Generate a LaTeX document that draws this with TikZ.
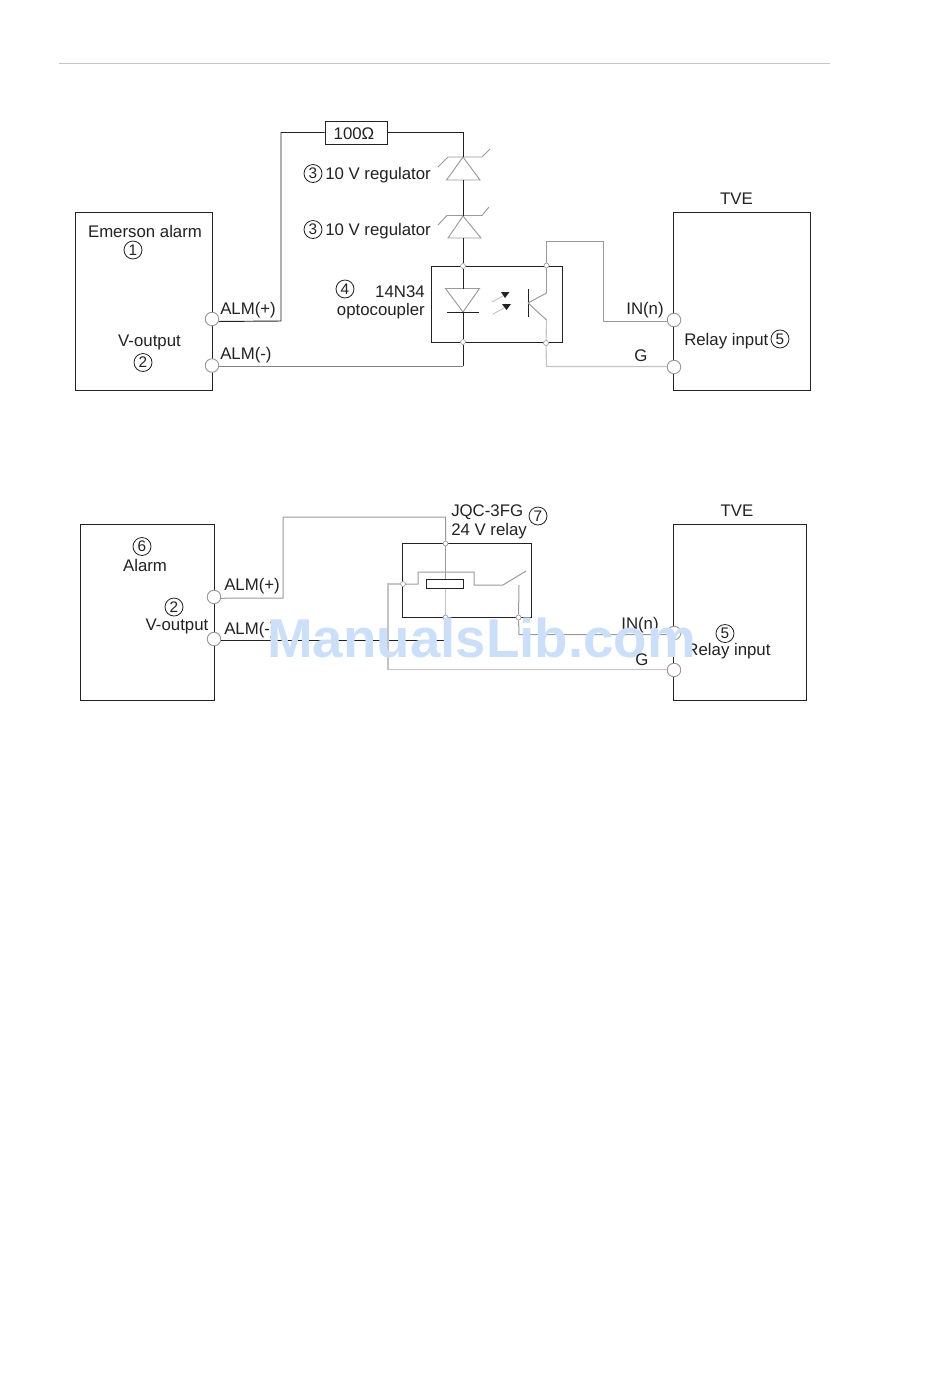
\documentclass[tikz,border=0pt]{standalone}
\usepackage{fontspec}
\setmainfont{Liberation Sans}
\definecolor{ink}{HTML}{222222}
\definecolor{gr}{HTML}{9A9A9A}
\definecolor{lgr}{HTML}{C4C4C4}
\definecolor{wmcol}{HTML}{CCDFF8}
\tikzset{
  x=0.75pt,y=-0.75pt,
  boxwh/.style 2 args={draw=ink,line width=0.7pt,fill=none,minimum width=#1*0.75pt,minimum height=#2*0.75pt,inner sep=0pt},
  port/.style={circle,draw=gr,fill=white,line width=0.7pt,minimum size=13.5*0.75pt,inner sep=0pt},
  dot/.style={circle,draw=gr,fill=white,line width=0.5pt,minimum size=5*0.75pt,inner sep=0pt},
  lbl/.style={text=ink,font=\fontsize{12.6}{15}\selectfont,inner sep=0pt},
  num/.style={circle,draw=ink,line width=0.6pt,text=ink,font=\fontsize{11.5}{12}\selectfont,minimum size=18*0.75pt,inner sep=0pt},
  wb/.style={draw=ink,line width=0.7pt},
  wg/.style={draw=gr,line width=0.75pt},
  wl/.style={draw=lgr,line width=0.85pt},
  sym/.style={draw=gr,line width=0.7pt},
  wm/.style={text=wmcol,font=\fontsize{41}{45}\selectfont\bfseries,inner sep=0pt}
}
\begin{document}
\begin{tikzpicture}
\useasboundingbox (0,0) rectangle (950,1386);
\fill[white] (0,0) rectangle (950,1386);
\coordinate (hl) at (59,63.5); \coordinate (hr) at (830,63.5);
\draw[draw=lgr,line width=0.7pt] (hl) -- (hr);

% ---------- top diagram ----------
\node[boxwh={137}{177.5}] (alarmA) at (144,301.25) {};
\node[boxwh={137}{177.5}] (tveA) at (742,301.25) {};
\node[boxwh={62}{23}] (res) at (356,132.5) {};
\node[lbl] (resT) at (354,133.5) {100Ω};
\node[boxwh={131}{76}] (opto) at (497,304) {};

\coordinate (c1) at (281,321); \coordinate (c2) at (281,132.5);
\coordinate (c3) at (463,132.5);
\coordinate (z1a) at (463,157); \coordinate (z1b) at (463,180);
\coordinate (z2a) at (463,216); \coordinate (z2b) at (463,238);
\coordinate (d1a) at (463,288.5); \coordinate (d1b) at (463,312);
\coordinate (c4) at (463,366);
\coordinate (q1) at (546.5,293); \coordinate (q2) at (546.5,320);
\coordinate (qb) at (528,303);
\coordinate (c5) at (546.5,241.5); \coordinate (c6) at (603.5,241.5);
\coordinate (c7) at (603.5,321); \coordinate (c8) at (546.5,366.5);

% zeners
\draw[sym] (438,167) -- (448,157) -- (482,157) -- (490,149);
\draw[sym] (z1a) -- (446.5,180) -- (480,180) -- cycle;
\draw[sym] (438,225) -- (447,215.5) -- (482,215.5) -- (489,207);
\draw[sym] (z2a) -- (448,238) -- (481,238) -- cycle;
% led + bar
\draw[sym] (445.5,288.5) -- (479.5,288.5) -- (d1b) -- cycle;
\draw[wb] (447,312) -- (479,312);
% light arrows
\draw[draw=lgr,line width=0.7pt] (492,302) -- (503,296);
\draw[draw=lgr,line width=0.7pt] (493,314) -- (504,308);
\fill[ink] (501,292) -- (509.5,292) -- (505,298) -- cycle;
\fill[ink] (502,304) -- (511,304) -- (506.5,310) -- cycle;
% transistor
\draw[wb] (528.3,289) -- (528.3,317);
\draw[wg] (qb) -- (q1); \draw[wg] (qb) -- (q2);

\node[dot] (dA1) at (463,266) {};
\node[dot] (dA2) at (546.5,265.5) {};
\node[dot] (dA3) at (463,342) {};
\node[dot] (dA4) at (546,343) {};
\node[port] (pA1) at (212,319) {};
\node[port] (pA2) at (212,365.5) {};
\node[port] (pA3) at (674,320) {};
\node[port] (pA4) at (674,367) {};

\draw[wb] (pA1.-20) -- (c1) -- (c2) -- (res.west);
\draw[wb] (res.east) -- (c3) -- (z1a);
\draw[wb] (z1b) -- (z2a);
\draw[wb] (z2b) -- (dA1);
\draw[wb] (dA1) -- (d1a);
\draw[wb] (d1b) -- (dA3);
\draw[wb] (dA3) -- (c4);
\draw[draw=gr!85!black,line width=0.75pt] (c4) -- (pA2.east |- c4);
\draw[wg] (dA2) -- (q1);
\draw[wg] (dA2) -- (c5) -- (c6) -- (c7) -- (pA3.west |- c7);
\draw[wl] (q2) -- (dA4);
\draw[wl] (dA4) -- (c8) -- (pA4.west |- c8);

\node[lbl] (tA1) at (145,231.5) {Emerson alarm};
\node[num] (nA1) at (133,250) {1};
\node[lbl] (tA2) at (149.5,342.5) {V-output};
\node[num] (nA2) at (143,362.5) {2};
\node[lbl,anchor=west] (tA3) at (220,310.5) {ALM(+)};
\node[lbl,anchor=west] (tA4) at (220,355.5) {ALM(-)};
\node[num] (nA3) at (313,173.5) {3};
\node[lbl,anchor=west] (tA5) at (325,175.5) {10 V regulator};
\node[num] (nA4) at (313,229.5) {3};
\node[lbl,anchor=west] (tA6) at (325,231.5) {10 V regulator};
\node[num] (nA5) at (345,289) {4};
\node[lbl,anchor=east] (tA7) at (425,292) {14N34};
\node[lbl,anchor=east] (tA8) at (425,311.5) {optocoupler};
\node[lbl] (tA9) at (736.5,199) {TVE};
\node[lbl,anchor=west] (tA10) at (684,341.5) {Relay input};
\node[num] (nA6) at (780,339) {5};
\node[lbl] (tA11) at (645,310.5) {IN(n)};
\node[lbl] (tA12) at (641,356) {G};

% ---------- bottom diagram ----------
\node[boxwh={134}{175.5}] (alarmB) at (147.5,612.25) {};
\node[boxwh={133}{175.5}] (tveB) at (740,612.25) {};
\node[boxwh={129}{74}] (relay) at (467,580.5) {};
\node[boxwh={37.5}{9.5}] (coil) at (445,583.75) {};

\coordinate (e1) at (283,598); \coordinate (e2) at (283,517);
\coordinate (e3) at (445.5,517);
\coordinate (e4) at (445.5,640);
\coordinate (f1) at (418,584); \coordinate (f2) at (418,572);
\coordinate (f3) at (474,572); \coordinate (f4) at (474,585);
\coordinate (f5) at (503,585); \coordinate (f6) at (526,571);
\coordinate (g1) at (519,585); \coordinate (g2) at (519,634.5);
\coordinate (h1) at (388,584); \coordinate (h2) at (388,669.5);

\node[dot] (dB1) at (445.5,543.5) {};
\node[dot] (dB2) at (445.5,617.5) {};
\node[dot] (dB3) at (518.5,617.5) {};
\node[dot] (dB4) at (403,584) {};
\node[port] (pB1) at (214,597) {};
\node[port] (pB2) at (214,639) {};
\node[port] (pB3) at (674,633) {};
\node[port] (pB4) at (674,670) {};

\draw[wg] (pB1.-10) -- (e1) -- (e2) -- (e3) -- (dB1);
\draw[wg] (dB1) -- (coil.north -| dB1);
\draw[wl] (coil.south -| dB2) -- (dB2);
\draw[wb] (dB2) -- (e4) -- (pB2.east |- e4);
\draw[wg] (dB4) -- (f1) -- (f2) -- (f3) -- (f4) -- (f5) -- (f6);
\draw[wg] (g1) -- (dB3);
\draw[wg] (dB3) -- (g2) -- (pB3.west |- g2);
\draw[wl] (dB4) -- (h1) -- (h2) -- (pB4.west |- h2);

\node[num] (nB1) at (142,546.5) {6};
\node[lbl] (tB1) at (145,565.5) {Alarm};
\node[num] (nB2) at (174,607) {2};
\node[lbl] (tB2) at (177,626.5) {V-output};
\node[lbl,anchor=west] (tB3) at (224,586.5) {ALM(+)};
\node[lbl,anchor=west] (tB4) at (224,630.5) {ALM(-)};
\node[lbl,anchor=west] (tB5) at (451,512.5) {JQC-3FG};
\node[lbl,anchor=west] (tB6) at (451,531.5) {24 V relay};
\node[num] (nB3) at (538,516) {7};
\node[lbl] (tB7) at (737,511) {TVE};
\node[num] (nB4) at (725,633.5) {5};
\node[lbl] (tB8) at (728.5,651.5) {Relay input};
\node[lbl] (tB9) at (640,625.5) {IN(n)};

% watermark
\node[wm] (wmk) at (481.5,638) {ManualsLib.com};
\node[lbl] (tB10) at (642,660) {G};
\end{tikzpicture}
\end{document}
